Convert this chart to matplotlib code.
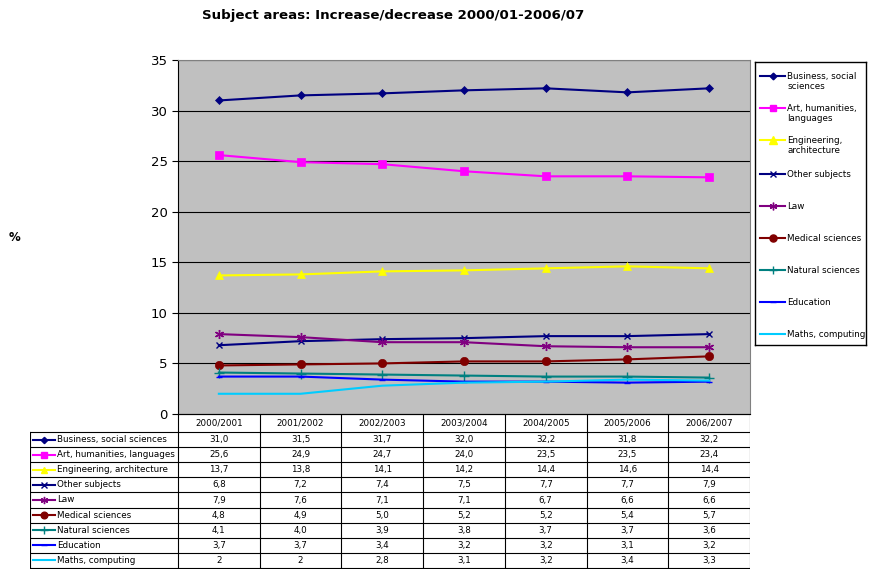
import matplotlib
matplotlib.use('Agg')
import matplotlib.pyplot as plt
from matplotlib.lines import Line2D

years = ['2000/2001', '2001/2002', '2002/2003', '2003/2004', '2004/2005', '2005/2006', '2006/2007']
names = ['Business, social sciences', 'Art, humanities, languages', 'Engineering, architecture',
         'Other subjects', 'Law', 'Medical sciences', 'Natural sciences', 'Education', 'Maths, computing']
legend_names = ['Business, social\nsciences', 'Art, humanities,\nlanguages', 'Engineering,\narchitecture',
                'Other subjects', 'Law', 'Medical sciences', 'Natural sciences', 'Education', 'Maths, computing']

business = [31.0, 31.5, 31.7, 32.0, 32.2, 31.8, 32.2]
art = [25.6, 24.9, 24.7, 24.0, 23.5, 23.5, 23.4]
engineering = [13.7, 13.8, 14.1, 14.2, 14.4, 14.6, 14.4]
other = [6.8, 7.2, 7.4, 7.5, 7.7, 7.7, 7.9]
law = [7.9, 7.6, 7.1, 7.1, 6.7, 6.6, 6.6]
medical = [4.8, 4.9, 5.0, 5.2, 5.2, 5.4, 5.7]
natural = [4.1, 4.0, 3.9, 3.8, 3.7, 3.7, 3.6]
education = [3.7, 3.7, 3.4, 3.2, 3.2, 3.1, 3.2]
maths = [2, 2, 2.8, 3.1, 3.2, 3.4, 3.3]
series = [business, art, engineering, other, law, medical, natural, education, maths]
table_text = [['%.1f' % v for v in s] for s in series[:-1]] + [['%g' % v for v in maths]]
table_text = [[t.replace('.', ',') for t in row] for row in table_text]

colors = ['#000080', '#FF00FF', '#FFFF00', '#000080', '#800080', '#800000', '#008080', '#0000FF', '#00CCFF']
markers = ['D', 's', '^', 'x', (6, 2, 0), 'o', '+', '_', None]
msizes = [4, 5.5, 6, 5, 6.5, 6, 7, 5, 0]

W, H = 869, 571
fig = plt.figure(figsize=(W / 100, H / 100), dpi=100)

def box(x0, y0, x1, y1):
    return [x0 / W, 1 - y1 / H, (x1 - x0) / W, (y1 - y0) / H]

ax = fig.add_axes(box(178, 60, 750, 414))
ax.set_facecolor('#C0C0C0')
x = list(range(len(years)))
for s, c, m, ms in zip(series, colors, markers, msizes):
    ax.plot(x, s, color=c, marker=m, markersize=ms, linewidth=1.5,
            markeredgewidth=1.0 if m in ('x', '+', '_') or isinstance(m, tuple) else 0.5)
ax.set_xlim(-0.5, 6.5)
ax.set_ylim(0, 35)
ax.set_yticks(range(0, 36, 5))
ax.set_xticks([])
ax.yaxis.grid(True, color='black', linewidth=0.8)
ax.set_axisbelow(True)
ax.tick_params(axis='y', labelsize=9.5, length=4, direction='out')
for sp in ['top', 'right']:
    ax.spines[sp].set_color('#808080')
ax.spines['left'].set_color('black')
ax.spines['bottom'].set_color('black')

fig.text(393 / W, 1 - 15 / H, 'Subject areas: Increase/decrease 2000/01-2006/07',
         ha='center', va='center', fontsize=9.6, fontweight='bold')
fig.text(15 / W, 1 - 237 / H, '%', ha='center', va='center', fontsize=8.5, fontweight='bold')

# legend
lax = fig.add_axes(box(755, 62, 866, 345))
lax.set_xlim(0, 111)
lax.set_ylim(283, 0)
lax.set_xticks([])
lax.set_yticks([])
for sp in lax.spines.values():
    sp.set_linewidth(1.0)
ys = [20, 52, 84, 113, 145, 177, 209, 241, 273]
for i in range(9):
    yy = ys[i] - 6 if '\n' in legend_names[i] else ys[i] - 1
    lax.add_line(Line2D([5, 30], [yy, yy], color=colors[i], linewidth=1.5))
    if markers[i] is not None:
        lax.plot([17.5], [yy], color=colors[i], marker=markers[i], markersize=msizes[i] * 0.85,
                 markeredgewidth=1.0)
    lax.text(32, yy - 4, legend_names[i], fontsize=6.3, va='top', ha='left', linespacing=1.1)

# data table
tax = fig.add_axes(box(30, 414, 750, 569))
tax.set_xlim(30, 750)
tax.set_ylim(569, 414)
tax.axis('off')
cw = (750 - 178) / 7
top_h = 432
rh = (568 - top_h) / 9
lw = 0.8
tax.plot([178, 750], [414, 414], color='black', lw=lw)
for j in range(8):
    xx = 178 + j * cw
    tax.plot([xx, xx], [414, 568], color='black', lw=lw)
tax.plot([30, 30], [top_h, 568], color='black', lw=lw)
for i in range(10):
    yy = top_h + i * rh
    tax.plot([30, 750], [yy, yy], color='black', lw=lw)
for j, yr in enumerate(years):
    tax.text(178 + (j + 0.5) * cw, (414 + top_h) / 2, yr, ha='center', va='center', fontsize=6.3)
for i in range(9):
    yc = top_h + (i + 0.5) * rh
    tax.plot([33, 55], [yc, yc], color=colors[i], lw=1.5)
    if markers[i] is not None:
        tax.plot([44], [yc], color=colors[i], marker=markers[i], markersize=msizes[i] * 0.8,
                 markeredgewidth=1.0)
    tax.text(57, yc, names[i], ha='left', va='center', fontsize=6.3)
    for j in range(7):
        tax.text(178 + (j + 0.5) * cw, yc, table_text[i][j], ha='center', va='center', fontsize=6.3)

fig.savefig('out.png', dpi=100, facecolor='white')
